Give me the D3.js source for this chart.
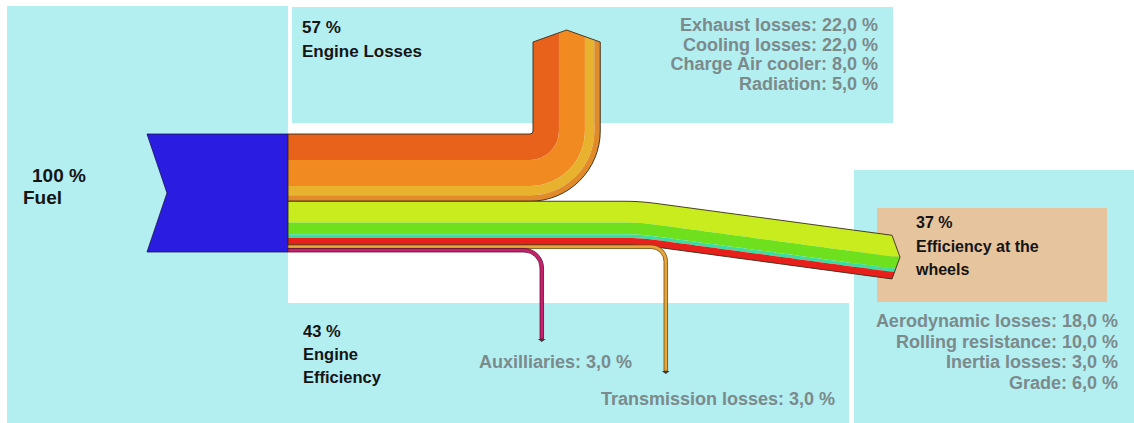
<!DOCTYPE html>
<html><head><meta charset="utf-8">
<script src="https://cdn.jsdelivr.net/npm/d3@7"></script>
<style>html,body{margin:0;padding:0;background:#fff;}svg{display:block;}</style>
</head><body>
<svg id="chart" width="1134" height="423"></svg>
<script>
// ---------- data ----------
const fuelTotal = 100;
const engineLossTotal = 57;
const engineEffTotal = 43;
const wheelsTotal = 37;
const engineLossCats = ["Exhaust losses", "Cooling losses", "Charge Air cooler", "Radiation"];
const engineLossValues = [22, 22, 8, 5];
const wheelCats = ["Aerodynamic losses", "Rolling resistance", "Inertia losses", "Grade"];
const wheelValues = [18, 10, 3, 6];
const driveCats = ["Transmission losses", "Auxilliaries"];
const driveValues = [3, 3];

// ---------- styles ----------
const engineLossColors = ["#e8621c", "#f28a22", "#e8b22e", "#e08a2a"];
const wheelColors = ["#c8ec1e", "#6fe01e", "#3edca0", "#e8201c"];
const driveColors = ["#e8a63a", "#c8206e"];
const driveStroke = ["#6a4a10", "#5a1030"];
const cyan = "#b3eef1";
const grey = "#7b8a8b";
const font = "'Liberation Sans', Arial, sans-serif";

const svg = d3.select("#chart");
const w = d3.scaleLinear().domain([0, fuelTotal]).range([0, 118]);
const fmt = v => d3.format(".1f")(v).replace(".", ",");

// ---------- background panels ----------
const panels = [
  [7, 6, 281, 417, cyan],
  [292, 7, 601, 116, cyan],
  [288, 303, 561, 120, cyan],
  [854, 170, 280, 253, cyan],
  [877, 208, 230, 94, "#e6c49e"]
];
svg.selectAll("rect.panel").data(panels).join("rect")
  .attr("x", d => d[0]).attr("y", d => d[1]).attr("width", d => d[2]).attr("height", d => d[3])
  .attr("fill", d => d[4]);

const x0 = 288, yTop = 134;

// ---------- fuel arrow ----------
const fuelH = w(fuelTotal);
svg.append("path")
  .attr("d", `M147,${yTop} L${x0},${yTop} L${x0},${yTop + fuelH} L147,${yTop + fuelH} L167,${yTop + fuelH / 2} Z`)
  .attr("fill", "#2a1ce0").attr("stroke", "#1a1450").attr("stroke-width", 0.8);

// ---------- engine losses (turns upward) ----------
const cx = 530, cy = 131, r0 = 3;
const lossH = w(engineLossTotal);
const shoulderY = 42, peakY = 30;
const xmL = cx + r0 + lossH / 2;
function chevTop(x) { return shoulderY - (shoulderY - peakY) * (1 - Math.abs(x - xmL) / (lossH / 2)); }
function lossPath(o, h) {
  const ri = r0 + o, ro = r0 + o + h;
  const xa = cx + ri, xb = cx + ro;
  let top = `L${xa},${chevTop(xa)} `;
  if (xa < xmL && xb > xmL) top += `L${xmL},${peakY} `;
  top += `L${xb},${chevTop(xb)} `;
  return `M${x0},${cy + ri} H${cx} A${ri},${ri} 0 0 0 ${xa},${cy} ` + top +
    `L${xb},${cy} A${ro},${ro} 0 0 1 ${cx},${cy + ro} H${x0} Z`;
}
let cum = 0;
const lossBands = engineLossValues.map((v, i) => { const b = { o: w(cum), h: w(v), c: engineLossColors[i] }; cum += v; return b; });
svg.selectAll("path.loss").data(lossBands).join("path").attr("class", "loss")
  .attr("d", d => lossPath(d.o, d.h)).attr("fill", d => d.c);
svg.append("path").attr("d", lossPath(0, lossH)).attr("fill", "none")
  .attr("stroke", "#3a2a1a").attr("stroke-width", 0.9);

// ---------- efficiency at wheels (slopes down to right) ----------
const yW = yTop + lossH;
const xk = 640, dk = 16, slope = 0.135, xEnd = 892, xTip = 900;
function shift(x) {
  if (x <= xk - dk) return 0;
  if (x <= xk + dk) return slope * Math.pow(x - xk + dk, 2) / (4 * dk);
  return slope * (x - xk);
}
const wheelsH = w(wheelsTotal);
const yMidEnd = yW + shift(xEnd) + wheelsH / 2;
function chevX(y) { return xEnd + (xTip - xEnd) * (1 - Math.abs(y - yMidEnd) / (wheelsH / 2)); }
const xs = d3.range(x0, xEnd, 4).concat([xEnd]);
const line = d3.line();
function wheelPath(o, h) {
  const topPts = xs.map(x => [x, yW + o + shift(x)]);
  const yt = yW + o + shift(xEnd), yb = yt + h;
  const right = [[chevX(yt), yt]];
  if (yt < yMidEnd && yb > yMidEnd) right.push([xTip, yMidEnd]);
  right.push([chevX(yb), yb]);
  const botPts = xs.slice().reverse().map(x => [x, yW + o + h + shift(x)]);
  return line(topPts.concat(right, botPts)) + "Z";
}
cum = 0;
const wheelBands = wheelValues.map((v, i) => { const b = { o: w(cum), h: w(v), c: wheelColors[i] }; cum += v; return b; });
svg.selectAll("path.wheel").data(wheelBands).join("path").attr("class", "wheel")
  .attr("d", d => wheelPath(d.o, d.h)).attr("fill", d => d.c);
svg.append("path").attr("d", wheelPath(0, wheelsH)).attr("fill", "none")
  .attr("stroke", "#3a2a1a").attr("stroke-width", 0.9);

// ---------- transmission & auxiliaries (turn downward) ----------
const driveLayout = [{ cx: 651, rIn: 13, yEnd: 371 }, { cx: 524, rIn: 16, yEnd: 339 }];
cum = 0;
const driveBands = driveValues.map((v, i) => {
  const b = { o: w(wheelsTotal + cum), h: w(v), c: driveColors[i], s: driveStroke[i], L: driveLayout[i] };
  cum += v; return b;
});
function drivePath(d) {
  const yt = yW + d.o, yb = yt + d.h, L = d.L;
  const ri = L.rIn, ro = L.rIn + d.h;
  const xl = L.cx + ri, xr = L.cx + ro;
  return `M${x0},${yt} H${L.cx} A${ro},${ro} 0 0 1 ${xr},${yb + ri} V${L.yEnd} H${xl} V${yb + ri} A${ri},${ri} 0 0 0 ${L.cx},${yb} H${x0} Z`;
}
svg.selectAll("path.drive").data(driveBands).join("path").attr("class", "drive")
  .attr("d", drivePath).attr("fill", d => d.c).attr("stroke", d => d.s).attr("stroke-width", 0.8);
svg.selectAll("path.head").data(driveBands).join("path").attr("class", "head")
  .attr("d", d => { const xc = d.L.cx + d.L.rIn + d.h / 2; return `M${xc - 4},${d.L.yEnd} L${xc + 4},${d.L.yEnd} L${xc},${d.L.yEnd + 3} Z`; })
  .attr("fill", "#3a3a3a");

// ---------- labels ----------
function blackLabel(lines, x, y0, dy, size) {
  svg.append("g").selectAll("text").data(lines).join("text")
    .attr("x", x).attr("y", (d, i) => y0 + i * dy)
    .attr("font-family", font).attr("font-weight", "bold").attr("font-size", size)
    .attr("fill", "#141414").text(d => d);
}
svg.append("text").attr("x", 32).attr("y", 182).attr("font-family", font).attr("font-weight", "bold")
  .attr("font-size", 19).attr("fill", "#141414").text(`${fuelTotal} %`);
svg.append("text").attr("x", 23).attr("y", 204).attr("font-family", font).attr("font-weight", "bold")
  .attr("font-size", 19).attr("fill", "#141414").text("Fuel");
blackLabel([`${engineLossTotal} %`, "Engine Losses"], 302, 33, 24, 17);
blackLabel([`${engineEffTotal} %`, "Engine", "Efficiency"], 303, 337, 23, 16.5);
blackLabel([`${wheelsTotal} %`, "Efficiency at the", "wheels"], 916, 228, 23.5, 16);

function greyList(cats, vals, x, y0, dy, anchor) {
  svg.append("g").selectAll("text").data(cats).join("text")
    .attr("x", x).attr("y", (d, i) => y0 + i * dy).attr("text-anchor", anchor)
    .attr("font-family", font).attr("font-weight", "bold").attr("font-size", 18)
    .attr("fill", grey).text((d, i) => `${d}: ${fmt(vals[i])} %`);
}
greyList(engineLossCats, engineLossValues, 878, 31, 19.7, "end");
greyList(wheelCats, wheelValues, 1118, 327, 20.5, "end");
greyList([driveCats[1]], [driveValues[1]], 479, 368, 0, "start");
greyList([driveCats[0]], [driveValues[0]], 835, 405, 0, "end");
</script>
</body></html>
